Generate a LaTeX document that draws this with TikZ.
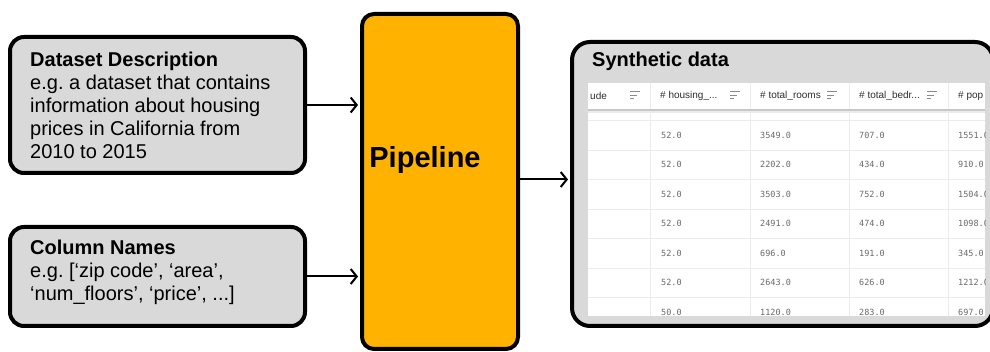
\documentclass[tikz,border=0pt]{standalone}
\usepackage{fontspec}
\setmainfont{Liberation Sans}
\setsansfont{Liberation Sans}
\setmonofont{DejaVu Sans Mono}
\usetikzlibrary{arrows.meta,positioning}
\definecolor{ink}{HTML}{000000}
\definecolor{boxgray}{HTML}{D9D9D9}
\definecolor{amber}{HTML}{FFB300}
\definecolor{gridline}{HTML}{ECECEC}
\definecolor{headtext}{HTML}{2E2E2E}
\definecolor{celltext}{HTML}{6A6A6A}
\definecolor{icon}{HTML}{8A8A8A}
\tikzset{
  font=\sffamily,
  flow/.style={
    -{Straight Barb[length=6pt,width=15pt,line width=2pt]},
    draw=ink,
    line width=2pt,
    shorten >=2pt
  },
  inputbox/.style={
    rectangle,
    rounded corners=14pt,
    draw=ink,
    line width=4pt,
    fill=boxgray,
    minimum width=295pt,
    inner sep=0pt
  },
  pipebox/.style={
    inputbox,
    rounded corners=12pt,
    fill=amber,
    minimum width=156pt,
    minimum height=335pt
  },
  outbox/.style={
    inputbox,
    rounded corners=18pt,
    minimum width=421pt,
    minimum height=284pt
  },
  boxtext/.style={
    font=\sffamily\fontsize{20}{23}\selectfont,
    text=ink,
    align=left,
    inner sep=0pt
  },
  pipetext/.style={
    font=\sffamily\bfseries\fontsize{29}{34}\selectfont,
    text=ink,
    inner sep=0pt
  },
  headcell/.style={
    font=\sffamily\fontsize{10}{12}\selectfont,
    text=headtext,
    anchor=west,
    inner sep=0pt
  },
  datacell/.style={
    font=\ttfamily\fontsize{8.5}{10}\selectfont,
    text=celltext,
    anchor=west,
    inner sep=0pt
  },
  gridrule/.style={draw=gridline, line width=0.8pt}
}

\begin{document}
\begin{tikzpicture}[x=1pt,y=-1pt]
  \clip (0,0) rectangle (990,352);
  \fill[white] (0,0) rectangle (990,352);

  % inputs
  \node[inputbox, minimum height=136pt] (desc) at (157.5,105) {};
  \node[boxtext, anchor=north west] (desctext) at (30,52)
    {\textbf{Dataset Description}\\e.g.\ a dataset that contains\\information about housing\\prices in California from\\2010 to 2015};

  \node[inputbox, minimum height=99pt] (cols) at (157.5,276.5) {};
  \node[boxtext, anchor=north west] (colstext) at (30,240)
    {\textbf{Column Names}\\e.g.\ [‘zip code’, ‘area’,\\‘num\_floors’, ‘price’, ...]};

  % pipeline
  \node[pipebox] (pipe) at (440,181.5) {};
  \node[pipetext] (pipelabel) at (425,160) {Pipeline};

  % output
  \node[outbox] (synth) at (782.5,184) {};
  \node[boxtext, font=\sffamily\bfseries\fontsize{20}{23}\selectfont, anchor=west] (synthtitle) at (592,61) {Synthetic data};

  \draw[flow] (desc.east) -- (desc.east -| pipe.west);
  \draw[flow] (cols.east) -- (cols.east -| pipe.west);
  \draw[flow] ([yshift=2pt]pipe.east) -- ([yshift=2pt]pipe.east -| synth.west);

  % table
  \begin{scope}
    \clip (588,83) rectangle (985,316);
    \fill[white] (588,83) rectangle (985,316);
    \foreach \y in {120,150,179.5,209,238.5,268,297.5}
      \draw[gridrule] (588,\y) -- (985,\y);
    \foreach \x in {650,750,849,948}
      \draw[gridrule] (\x,83) -- (\x,316);
    \draw[draw=black!22, line width=1.2pt] (588,110) -- (985,110);
    \draw[draw=black!8, line width=1.5pt] (588,111.8) -- (985,111.8);

    \foreach \x/\label [count=\k] in {590/ude, 660/{\# housing\_...}, 760/{\# total\_rooms}, 859/{\# total\_bedr...}, 958/{\# pop}}
      \node[headcell] (head\k) at (\x,96) {\label};
    \foreach \x in {630,730,827,927}
      \draw[draw=icon, line width=1pt] (\x,92) -- ++(10,0) (\x,95.5) -- ++(7,0) (\x,99) -- ++(4,0);

    \foreach \a/\b/\c/\d [count=\i] in {52.0/3549.0/707.0/1551.0, 52.0/2202.0/434.0/910.0,
        52.0/3503.0/752.0/1504.0, 52.0/2491.0/474.0/1098.0, 52.0/696.0/191.0/345.0,
        52.0/2643.0/626.0/1212.0, 50.0/1120.0/283.0/697.0} {
      \pgfmathsetmacro{\rowy}{135+(\i-1)*29.5}
      \node[datacell] (a\i) at (661,\rowy) {\a};
      \node[datacell] (b\i) at (760,\rowy) {\b};
      \node[datacell] (c\i) at (859,\rowy) {\c};
      \node[datacell] (d\i) at (958,\rowy) {\d};
    }
  \end{scope}
\end{tikzpicture}
\end{document}
